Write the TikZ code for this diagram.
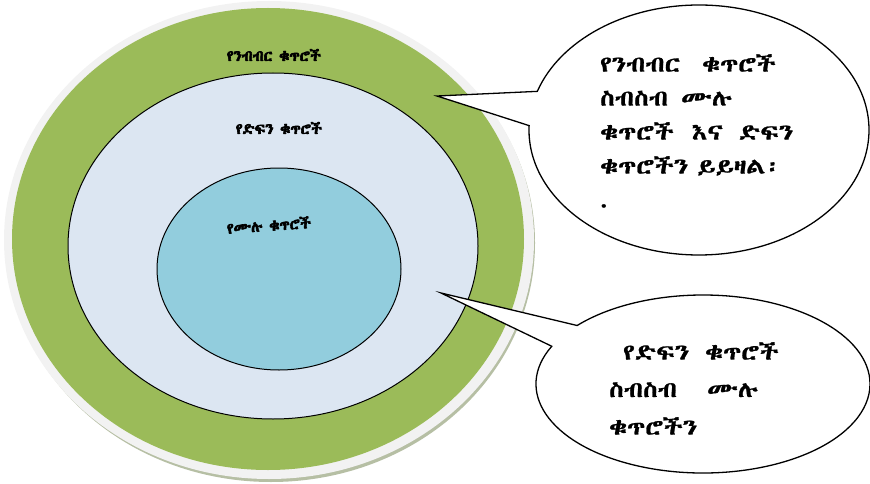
\documentclass[tikz,border=0pt]{standalone}
\usepackage{fontspec}
\usetikzlibrary{shapes.callouts,shapes.geometric}
\newfontfamily\ethtext{Abyssinica SIL}[Script=Ethiopic,FakeBold=1.2,FakeStretch=1.2]
\newfontfamily\ethbold{Abyssinica SIL}[Script=Ethiopic,FakeBold=4]
\definecolor{olivegreen}{RGB}{155,187,89}
\definecolor{paleblue}{RGB}{220,230,242}
\definecolor{aqua}{RGB}{146,205,221}
\begin{document}
\begin{tikzpicture}[x=1pt,y=-1pt,
    ring/.style={draw=black,line width=1pt},
    bubble/.style={ellipse callout,draw,line width=1.3pt,fill=white,
        inner sep=0pt,callout pointer arc=16},
    say/.style={inner sep=0pt,align=left,anchor=north west},
    tag/.style={font=\ethbold\fontsize{15}{15}\selectfont}]
    \useasboundingbox (0,0) rectangle (870,484);
    % vong ngoai
    \fill[olivegreen!60!black,opacity=.45] (271,243) ellipse [x radius=264,y radius=239];
    \fill[gray!10] (269,240) ellipse [x radius=265,y radius=239];
    \fill[olivegreen] (268,239) ellipse [x radius=256,y radius=231];
    \draw[ring,fill=paleblue] (273,246) ellipse [x radius=205,y radius=173];
    \draw[ring,fill=aqua] (279,269) ellipse [x radius=122,y radius=101];
    \path
    (274,55) node[tag] (N) {የንብብር ቁጥሮች}
    (279,128) node[tag] (D) {የድፍን ቁጥሮች}
    (269,225) node[tag,rotate=4] (M) {የሙሉ ቁጥሮች};
    % chu thich
    \coordinate (p1) at (437,96);
    \coordinate (p2) at (441,293);
    \node[bubble,minimum width=340pt,minimum height=250pt,
        callout absolute pointer=(p1)] (c1) at (699,130) {};
    \node[bubble,minimum width=334pt,minimum height=178pt,
        callout absolute pointer=(p2)] (c2) at (703,384) {};
    \node[say,font=\ethtext\fontsize{22}{34}\selectfont] (t1) at (600,54)
        {የንብብር\hspace{22pt}ቁጥሮች\\ ስብስብ\hspace{13pt}ሙሉ\\
         ቁጥሮች\hspace{18pt}እና\hspace{16pt}ድፍን\\ ቁጥሮችን\hspace{9pt}ይይዛል፡\\ .};
    \node[say,font=\ethtext\fontsize{22}{37.5}\selectfont] (t2) at (609,342)
        {\hspace{14pt}የድፍን\hspace{16pt}ቁጥሮች\\ ስብስብ\hspace{30pt}ሙሉ\\ ቁጥሮችን};
\end{tikzpicture}
\end{document}
